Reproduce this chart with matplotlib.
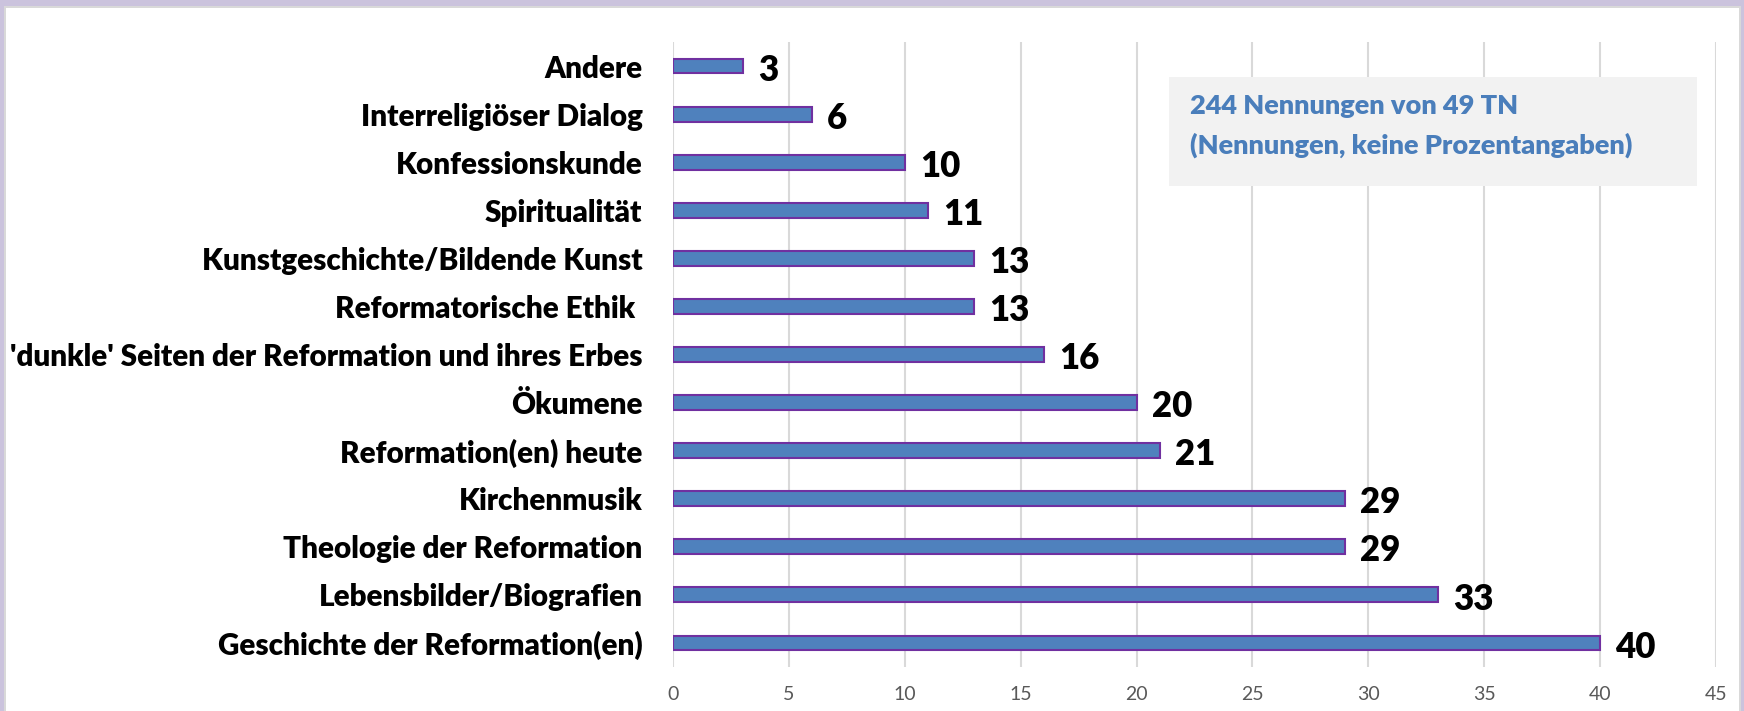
import matplotlib
matplotlib.use("Agg")
import matplotlib.pyplot as plt
from matplotlib.patches import Rectangle

categories = [
    "Andere",
    "Interreligiöser Dialog",
    "Konfessionskunde",
    "Spiritualität",
    "Kunstgeschichte/Bildende Kunst",
    "Reformatorische Ethik ",
    "'dunkle' Seiten der Reformation und ihres Erbes",
    "Ökumene",
    "Reformation(en) heute",
    "Kirchenmusik",
    "Theologie der Reformation",
    "Lebensbilder/Biografien",
    "Geschichte der Reformation(en)",
]
values = [3, 6, 10, 11, 13, 13, 16, 20, 21, 29, 29, 33, 40]
xticks = [0, 5, 10, 15, 20, 25, 30, 35, 40, 45]
note = "244 Nennungen von 49 TN\n(Nennungen, keine Prozentangaben)"

FONT = "Lato"
W, H = 1744, 711
fig = plt.figure(figsize=(W / 100, H / 100), dpi=100)
fig.patch.set_facecolor("white")

ax = fig.add_axes([673 / W, 44 / H, (1716 - 673) / W, (669 - 44) / H])
pos = list(range(len(categories)))
ax.barh(pos, values, height=0.31, color="#4F81BD", edgecolor="#7030A0", linewidth=1.5, zorder=3)
ax.set_ylim(len(categories) - 0.5, -0.5)
ax.set_xlim(0, 45)
ax.set_xticks(xticks)
ax.set_xticklabels([str(t) for t in xticks], fontsize=14, color="#595959", family=FONT)
ax.set_yticks(pos)
ax.set_yticklabels(categories, fontsize=21.3, fontweight="heavy", color="black", family=FONT)
ax.tick_params(axis="y", length=0, pad=22)
ax.tick_params(axis="x", length=0, pad=14)
ax.grid(axis="x", color="#D9D9D9", linewidth=1.5, zorder=0)
for s in ax.spines.values():
    s.set_visible(False)

for p, v in zip(pos, values):
    ax.annotate(str(v), xy=(v, p), xytext=(11, -3), textcoords="offset points",
                ha="left", va="center", fontsize=25, fontweight="heavy", color="black",
                family=FONT, zorder=4)

# note box
fig.patches.append(Rectangle((1169 / W, 1 - 186 / H), (1697 - 1169) / W, (186 - 77) / H,
                             transform=fig.transFigure, facecolor="#F2F2F2", edgecolor="none", zorder=5))
fig.text(1190 / W, 1 - 126 / H, note, transform=fig.transFigure, ha="left", va="center",
         fontsize=19.5, fontweight="heavy", color="#4A7EBB", family=FONT, linespacing=1.65, zorder=6)

# frame borders
lav = "#CBC3DD"
gray = "#D9D9D9"
fig.patches.append(Rectangle((0, 1 - 6 / H), 1, 6 / H, transform=fig.transFigure, facecolor=lav, edgecolor="none"))
fig.patches.append(Rectangle((0, 0), 4 / W, 1, transform=fig.transFigure, facecolor=lav, edgecolor="none"))
fig.patches.append(Rectangle((4 / W, 0), 2 / W, 1 - 6 / H, transform=fig.transFigure, facecolor=gray, edgecolor="none"))
fig.patches.append(Rectangle(((W - 3) / W, 0), 3 / W, 1, transform=fig.transFigure, facecolor=lav, edgecolor="none"))
fig.patches.append(Rectangle(((W - 5) / W, 0), 2 / W, 1 - 6 / H, transform=fig.transFigure, facecolor=gray, edgecolor="none"))
fig.patches.append(Rectangle((4 / W, 1 - 8 / H), (W - 7) / W, 2 / H, transform=fig.transFigure, facecolor=gray, edgecolor="none"))

fig.savefig("out.png", dpi=100)
